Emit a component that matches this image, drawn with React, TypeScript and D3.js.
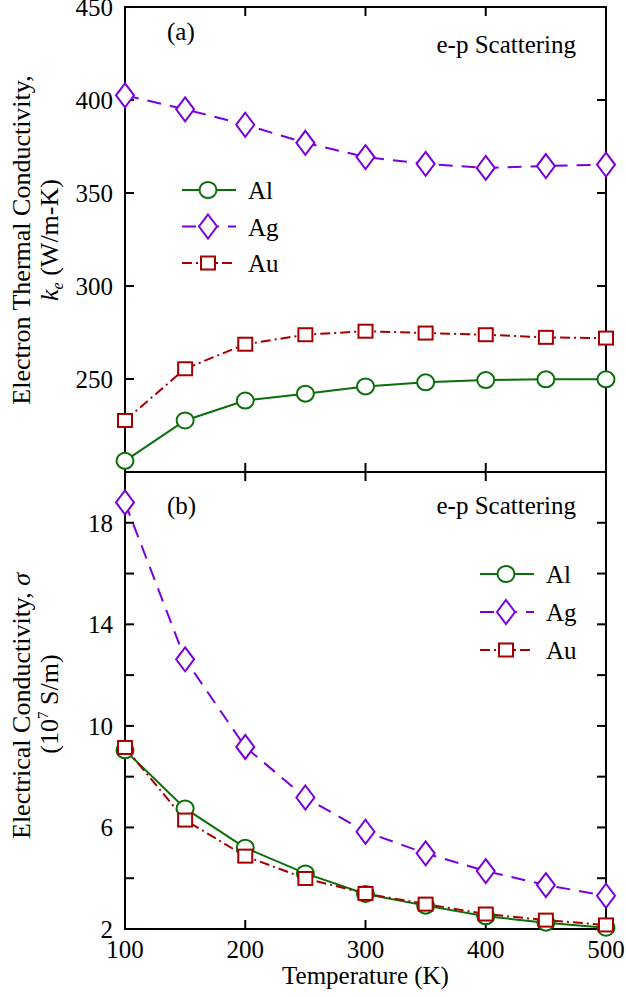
import React from "react";
import * as d3 from "d3";

const temps = [100, 150, 200, 250, 300, 350, 400, 450, 500];
const keAl = [206, 227.7, 238.4, 242.1, 246, 248.2, 249.4, 249.8, 249.8];
const keAg = [402.5, 395, 386.7, 377, 369.3, 365.7, 363.5, 364.5, 365.3];
const keAu = [227.7, 255.5, 268.7, 273.8, 275.7, 274.7, 273.8, 272.4, 272];
const sigAl = [9.04, 6.75, 5.2, 4.19, 3.38, 2.92, 2.5, 2.25, 2.05];
const sigAg = [18.8, 12.62, 9.17, 7.18, 5.83, 4.98, 4.28, 3.73, 3.31];
const sigAu = [9.15, 6.29, 4.87, 3.99, 3.4, 2.98, 2.59, 2.35, 2.16];

const xTicks = [100, 200, 300, 400, 500];
const keTicks = [250, 300, 350, 400, 450];
const keMinor = [200, 250, 300, 350, 400, 450];
const sigTicks = [2, 6, 10, 14, 18];
const sigMinor = [2, 4, 6, 8, 10, 12, 14, 16, 18, 20];
const seriesNames = ["Al", "Ag", "Au"];

const W = 626, H = 997;
const L = 125, R = 606, T1 = 7, B1 = 472, T2 = 472, B2 = 929;
const FONT = "'Liberation Serif', 'Times New Roman', Times, Tinos, 'DejaVu Serif', serif";
const FS = 25;

const COLORS: Record<string, string> = { Al: "#0a6e0a", Ag: "#7700dd", Au: "#a50000" };
const DASH: Record<string, string | undefined> = { Al: undefined, Ag: "14,9", Au: "10,4,2,4" };

const txt = { fontFamily: FONT, fontSize: FS } as React.CSSProperties;

function Marker({ kind, x, y }: { kind: string; x: number; y: number }) {
  const c = COLORS[kind];
  if (kind === "Al") return <ellipse cx={x} cy={y} rx={8.5} ry={8} fill="white" stroke={c} strokeWidth={2} />;
  if (kind === "Ag") {
    const p = `M${x},${y - 12}L${x + 9},${y}L${x},${y + 12}L${x - 9},${y}Z`;
    return <path d={p} fill="white" stroke={c} strokeWidth={2} />;
  }
  return <rect x={x - 7} y={y - 6.5} width={14} height={13} fill="white" stroke={c} strokeWidth={2} />;
}

function Panel({
  yScale, top, bottom, major, minor, data, label, labelY, legendX, legendY, legendGap,
}: any) {
  const x = d3.scaleLinear().domain([100, 500]).range([L, R]);
  const line = d3.line<[number, number]>().x((d) => x(d[0])).y((d) => yScale(d[1]));
  const tl = 9;
  return (
    <g>
      {seriesNames.map((n, i) => (
        <path key={n} d={line(temps.map((t, j) => [t, data[i][j]]) as any) || ""} fill="none"
          stroke={COLORS[n]} strokeWidth={2} strokeDasharray={DASH[n]} />
      ))}
      <rect x={L} y={top} width={R - L} height={bottom - top} fill="none" stroke="black" strokeWidth={2} />
      {minor.map((v: number) => (
        <g key={"m" + v}>
          <line x1={L} x2={L + tl} y1={yScale(v)} y2={yScale(v)} stroke="black" strokeWidth={2} />
          <line x1={R - tl} x2={R} y1={yScale(v)} y2={yScale(v)} stroke="black" strokeWidth={2} />
        </g>
      ))}
      {xTicks.map((v) => (
        <g key={"x" + v}>
          <line x1={x(v)} x2={x(v)} y1={top} y2={top + tl} stroke="black" strokeWidth={2} />
          <line x1={x(v)} x2={x(v)} y1={bottom - tl} y2={bottom} stroke="black" strokeWidth={2} />
        </g>
      ))}
      {major.map((v: number) => (
        <text key={"t" + v} x={L - 12} y={yScale(v) + 9} textAnchor="end" style={txt}>{v}</text>
      ))}
      {seriesNames.map((n, i) =>
        temps.map((t, j) => <Marker key={n + t} kind={n} x={x(t)} y={yScale(data[i][j])} />)
      )}
      <text x={167} y={labelY[0]} style={txt}>{label}</text>
      <text x={576} y={labelY[1]} textAnchor="end" style={txt}>e-p Scattering</text>
      {seriesNames.map((n, i) => {
        const ly = legendY + i * legendGap;
        return (
          <g key={"lg" + n}>
            <line x1={legendX} x2={legendX + 54} y1={ly} y2={ly} stroke={COLORS[n]} strokeWidth={2} strokeDasharray={DASH[n]} />
            <Marker kind={n} x={legendX + 26} y={ly} />
            <text x={legendX + 66} y={ly + 9} style={txt}>{n}</text>
          </g>
        );
      })}
    </g>
  );
}

export default function App() {
  const x = d3.scaleLinear().domain([100, 500]).range([L, R]);
  const y1 = d3.scaleLinear().domain([200, 450]).range([B1, T1]);
  const y2 = d3.scaleLinear().domain([2, 20]).range([B2, T2]);
  const ylab = { fontFamily: FONT, fontSize: 26 } as React.CSSProperties;
  return (
    <svg width={W} height={H} style={{ position: "absolute", left: 0, top: 0, background: "white" }}>
      <rect x={0} y={0} width={W} height={H} fill="white" />
      <Panel yScale={y1} top={T1} bottom={B1} major={keTicks} minor={keMinor}
        data={[keAl, keAg, keAu]} label="(a)" labelY={[40, 53]} legendX={182} legendY={190} legendGap={36.5} />
      <Panel yScale={y2} top={T2} bottom={B2} major={sigTicks} minor={sigMinor}
        data={[sigAl, sigAg, sigAu]} label="(b)" labelY={[514, 514]} legendX={480} legendY={574} legendGap={38} />
      {xTicks.map((v) => (
        <text key={"xl" + v} x={x(v)} y={958} textAnchor="middle" style={txt}>{v}</text>
      ))}
      <text x={(L + R) / 2} y={984} textAnchor="middle" style={txt}>Temperature (K)</text>
      <text transform="translate(30,240) rotate(-90)" textAnchor="middle" style={ylab}>
        Electron Thermal Conductivity,
      </text>
      <text transform="translate(58,240) rotate(-90)" textAnchor="middle" style={ylab}>
        <tspan fontStyle="italic">k</tspan>
        <tspan fontSize={16} fontStyle="italic" dy={5}>e</tspan>
        <tspan dy={-5}> (W/m-K)</tspan>
      </text>
      <text transform="translate(30,706) rotate(-90)" textAnchor="middle" style={ylab}>
        Electrical Conductivity, <tspan fontStyle="italic">σ</tspan>
      </text>
      <text transform="translate(58,704) rotate(-90)" textAnchor="middle" style={ylab}>
        (10<tspan fontSize={15} dy={-10}>7</tspan><tspan dy={10}> S/m)</tspan>
      </text>
    </svg>
  );
}
